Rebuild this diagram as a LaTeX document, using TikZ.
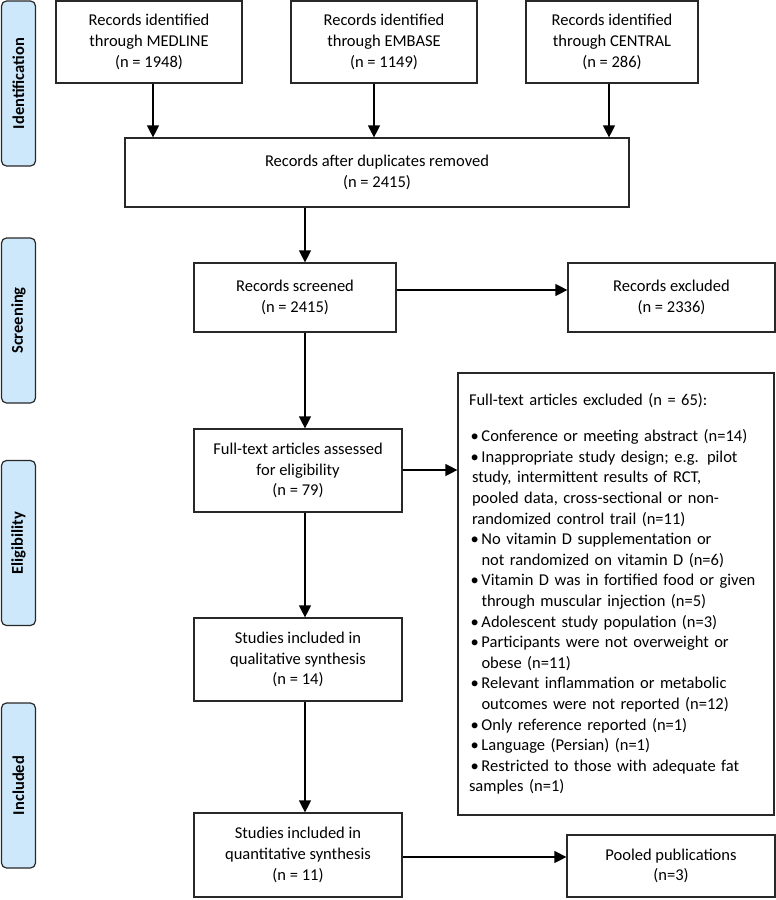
\documentclass[tikz,border=0pt]{standalone}
\usepackage{fontspec}
\setmainfont{Carlito}
\usetikzlibrary{arrows.meta}
\definecolor{sidefill}{RGB}{204,232,250}
\definecolor{edge}{RGB}{40,40,40}
\newcommand{\bl}{\makebox[12.5pt][l]{\hspace*{1.5pt}•}}
\begin{document}
\begin{tikzpicture}[x=1pt,y=-1pt,
  box/.style={draw=edge, line width=1.2pt, align=center, inner sep=2pt, font=\fontsize{16.5}{20.6}\selectfont},
  side/.style={draw=edge, line width=1.2pt, fill=sidefill, rounded corners=5pt, minimum width=165pt, minimum height=34pt, inner sep=0pt, font=\fontsize{16.5}{20.6}\selectfont\bfseries, rotate=90},
  arr/.style={line width=1.2pt, draw=black, -{Triangle[length=12pt,width=12pt]}}]
\useasboundingbox (0,0) rectangle (776,900);
% side labels
\node[side] (idn)  at (18.5,83.5)  {Identification};
\node[side] (scrn) at (18.5,320.5) {Screening};
\node[side] (elig) at (18.5,543)   {Eligibility};
\node[side] (incl) at (18.5,785.5) {Included};
% main boxes
\node[box, minimum width=186pt, minimum height=82pt] (med) at (149,42) {Records identified\\through MEDLINE\\(n = 1948)};
\node[box, minimum width=186pt, minimum height=82pt] (emb) at (384,42) {Records identified\\through EMBASE\\(n = 1149)};
\node[box, minimum width=172pt, minimum height=82pt] (cen) at (612,42) {Records identified\\through CENTRAL\\(n = 286)};
\node[box, minimum width=504pt, minimum height=69pt] (dup) at (377,172.5) {Records after duplicates removed\\(n = 2415)};
\node[box, minimum width=202pt, minimum height=69pt] (scr) at (295,297.5) {Records screened\\(n = 2415)};
\node[box, minimum width=207pt, minimum height=69pt] (exc) at (671.5,297.5) {Records excluded\\(n = 2336)};
\node[box, minimum width=208pt, minimum height=83pt] (ft) at (298,470.5) {Full-text articles assessed\\for eligibility\\(n = 79)};
\node[box, minimum width=316pt, minimum height=442pt, align=left, inner xsep=11pt, text width=294pt] (big) at (616,594) {%
Full-text articles excluded (n = 65):\\[15.4pt]
\bl Conference or meeting abstract (n=14)\\
\bl Inappropriate study design; e.g. pilot\\
\hspace*{3pt}study, intermittent results of RCT,\\
\hspace*{3pt}pooled data, cross-sectional or non-\\
\hspace*{3pt}randomized control trail (n=11)\\
\bl No vitamin D supplementation or\\
\hspace*{12.5pt}not randomized on vitamin D (n=6)\\
\bl Vitamin D was in fortified food or given\\
\hspace*{12.5pt}through muscular injection (n=5)\\
\bl Adolescent study population (n=3)\\
\bl Participants were not overweight or\\
\hspace*{12.5pt}obese (n=11)\\
\bl Relevant inflammation or metabolic\\
\hspace*{12.5pt}outcomes were not reported (n=12)\\
\bl Only reference reported (n=1)\\
\bl Language (Persian) (n=1)\\
\bl Restricted to those with adequate fat\\
samples (n=1)};
\node[box, minimum width=208pt, minimum height=83pt] (qual) at (298,659.5) {Studies included in\\qualitative synthesis\\(n = 14)};
\node[box, minimum width=208pt, minimum height=84pt] (quant) at (298,855) {Studies included in\\quantitative synthesis\\(n = 11)};
\node[box, minimum width=208pt, minimum height=62pt] (pool) at (671,866) {Pooled publications\\(n=3)};
% connectors
\draw[arr] ([xshift=4pt]med.south) -- ([xshift=4pt]med.south |- dup.north);
\draw[arr] ([xshift=-10pt]emb.south) -- ([xshift=-10pt]emb.south |- dup.north);
\draw[arr] ([xshift=-3pt]cen.south) -- ([xshift=-3pt]cen.south |- dup.north);
\draw[arr] ([xshift=10pt]scr.north |- dup.south) -- ([xshift=10pt]scr.north);
\draw[arr] ([yshift=7.5pt]scr.east) -- ([yshift=7.5pt]scr.east -| exc.west);
\draw[arr] ([xshift=10pt]scr.south) -- ([xshift=10pt]scr.south |- ft.north);
\draw[arr] ([yshift=0.5pt]ft.east) -- ([yshift=0.5pt]ft.east -| big.west);
\draw[arr] ([xshift=7pt]ft.south) -- ([xshift=7pt]qual.north);
\draw[arr] ([xshift=7pt]qual.south) -- ([xshift=7pt]quant.north);
\draw[arr] ([yshift=-2pt]quant.east) -- ([yshift=-2pt]quant.east -| pool.west);
\end{tikzpicture}
\end{document}
